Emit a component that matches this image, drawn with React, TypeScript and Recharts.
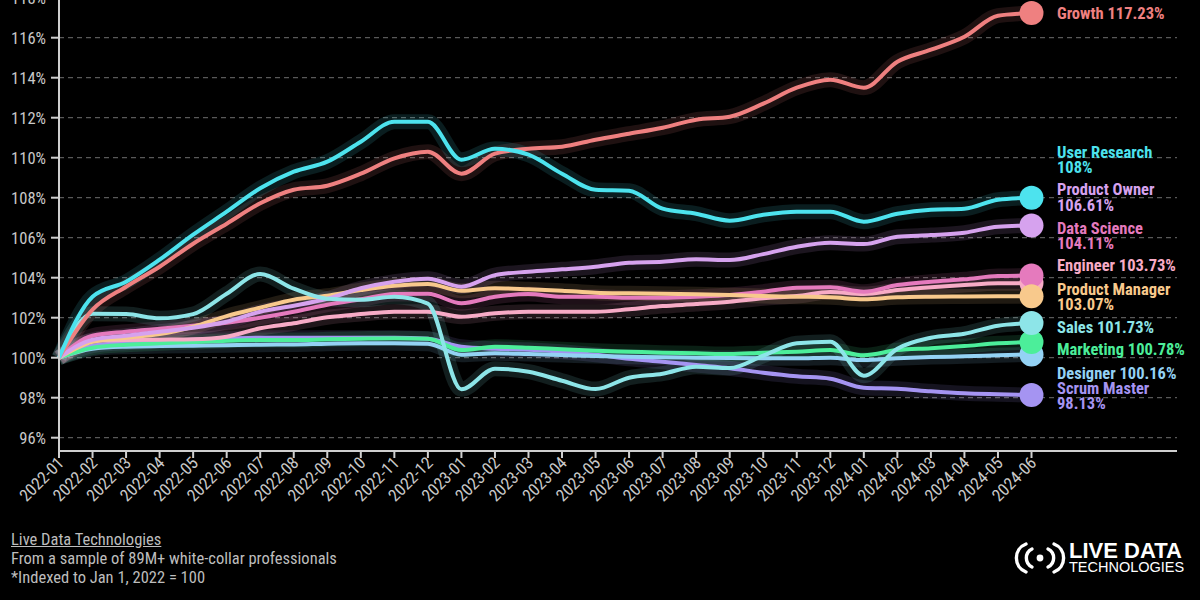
import { LineChart, Line, XAxis, YAxis, CartesianGrid } from "recharts";

const months = [
  "2022-01", "2022-02", "2022-03", "2022-04", "2022-05", "2022-06", "2022-07", "2022-08", "2022-09", "2022-10",
  "2022-11", "2022-12", "2023-01", "2023-02", "2023-03", "2023-04", "2023-05", "2023-06", "2023-07", "2023-08",
  "2023-09", "2023-10", "2023-11", "2023-12", "2024-01", "2024-02", "2024-03", "2024-04", "2024-05", "2024-06",
];

const growth = [100, 102.4, 103.55, 104.55, 105.7, 106.7, 107.72, 108.4, 108.6, 109.2, 109.97, 110.3, 109.2, 110.2, 110.45, 110.55, 110.9, 111.2, 111.5, 111.9, 112.05, 112.7, 113.5, 113.9, 113.5, 114.8, 115.4, 116.05, 117.1, 117.23];
const userResearch = [100, 103.05, 103.8, 104.9, 106.15, 107.3, 108.47, 109.3, 109.8, 110.8, 111.8, 111.8, 109.9, 110.45, 110.15, 109.2, 108.4, 108.35, 107.45, 107.2, 106.85, 107.15, 107.3, 107.3, 106.8, 107.2, 107.4, 107.45, 107.9, 108];
const productOwner = [100, 100.9, 101.1, 101.3, 101.5, 101.8, 102.3, 102.6, 102.95, 103.47, 103.8, 103.95, 103.55, 104.13, 104.3, 104.42, 104.55, 104.75, 104.8, 104.92, 104.88, 105.18, 105.55, 105.75, 105.68, 106.05, 106.13, 106.25, 106.55, 106.61];
const dataScience = [100, 101.1, 101.3, 101.45, 101.6, 101.75, 102.0, 102.3, 102.65, 102.92, 103.18, 103.2, 102.72, 103.05, 103.18, 103.05, 103.05, 103.0, 103.0, 103.05, 103.13, 103.3, 103.5, 103.52, 103.3, 103.63, 103.8, 103.92, 104.08, 104.11];
const engineer = [100, 100.85, 100.88, 100.9, 100.92, 101.05, 101.47, 101.72, 102.02, 102.18, 102.3, 102.3, 102.05, 102.22, 102.3, 102.3, 102.3, 102.42, 102.58, 102.68, 102.8, 102.97, 103.08, 103.28, 103.18, 103.38, 103.52, 103.63, 103.72, 103.73];
const productManager = [100, 100.8, 101.0, 101.18, 101.55, 102.08, 102.5, 102.9, 103.1, 103.38, 103.6, 103.68, 103.35, 103.47, 103.42, 103.35, 103.25, 103.22, 103.2, 103.17, 103.13, 103.08, 103.05, 103.02, 102.92, 103.02, 103.05, 103.06, 103.07, 103.07];
const sales = [100, 102.2, 102.18, 101.97, 102.18, 103.2, 104.18, 103.45, 102.95, 102.9, 103.05, 102.7, 98.42, 99.45, 99.3, 98.85, 98.43, 99.0, 99.2, 99.55, 99.48, 100.1, 100.72, 100.8, 99.1, 100.45, 101.0, 101.2, 101.6, 101.73];
const marketing = [100, 100.5, 100.65, 100.72, 100.78, 100.85, 100.88, 100.88, 100.92, 100.95, 100.97, 100.95, 100.38, 100.55, 100.5, 100.42, 100.35, 100.3, 100.25, 100.22, 100.18, 100.25, 100.3, 100.38, 100.12, 100.38, 100.47, 100.58, 100.72, 100.78];
const designer = [100, 100.45, 100.55, 100.58, 100.6, 100.62, 100.65, 100.66, 100.7, 100.72, 100.72, 100.7, 100.15, 100.22, 100.18, 100.13, 100.08, 100.05, 100.02, 100.0, 99.98, 99.97, 99.97, 100.0, 99.88, 99.97, 100.03, 100.07, 100.12, 100.16];
const scrumMaster = [100, 100.6, 100.75, 100.82, 100.9, 100.95, 101.0, 101.0, 101.0, 101.0, 101.0, 100.95, 100.55, 100.45, 100.4, 100.3, 100.15, 99.95, 99.8, 99.63, 99.47, 99.25, 99.07, 98.95, 98.5, 98.45, 98.32, 98.22, 98.17, 98.13];

const yTicks = [96, 98, 100, 102, 104, 106, 108, 110, 112, 114, 116, 118];

const footerLines = ["Live Data Technologies", "From a sample of 89M+ white-collar professionals", "*Indexed to Jan 1, 2022 = 100"];

const FONT = "'Roboto Condensed', 'Liberation Sans Narrow', 'DejaVu Sans Condensed', Roboto, sans-serif";

// drawing order: first = bottom
const series = [
  { key: "scrumMaster", name: "Scrum Master", values: scrumMaster, color: "#a594f2", twoLine: true, labelDy: 0 },
  { key: "designer", name: "Designer", values: designer, color: "#94d2f4", twoLine: false, labelDy: 18 },
  { key: "marketing", name: "Marketing", values: marketing, color: "#4cee9a", twoLine: false, labelDy: 7 },
  { key: "engineer", name: "Engineer", values: engineer, color: "#f7abc6", twoLine: false, labelDy: -18 },
  { key: "dataScience", name: "Data Science", values: dataScience, color: "#e57abd", twoLine: true, labelDy: -40 },
  { key: "productManager", name: "Product Manager", values: productManager, color: "#f8c98c", twoLine: true, labelDy: 0 },
  { key: "productOwner", name: "Product Owner", values: productOwner, color: "#d6a2ee", twoLine: true, labelDy: -28.5 },
  { key: "sales", name: "Sales", values: sales, color: "#8de5e8", twoLine: false, labelDy: 3.5 },
  { key: "growth", name: "Growth", values: growth, color: "#ef8080", twoLine: false, labelDy: 0 },
  { key: "userResearch", name: "User Research", values: userResearch, color: "#4de3ee", twoLine: true, labelDy: -38.5 },
];

const rows = months.map((m, i) => {
  const row: Record<string, string | number> = { month: m };
  series.forEach((s) => (row[s.key] = s.values[i]));
  return row;
});

const last = months.length - 1;

function MonthTick({ x, y, payload }: any) {
  return (
    <g transform={`translate(${x + 6},${y + 4}) rotate(-45)`}>
      <text textAnchor="end" fill="#c9c9c9" fontSize={17} fontFamily={FONT}>
        {payload.value}
      </text>
    </g>
  );
}

function endDot(s: (typeof series)[number]) {
  return (props: any) => {
    const { cx, cy, index } = props;
    if (index !== last) return <g key={`${s.key}-${index}`} />;
    const v = `${s.values[last]}%`;
    const c = cy + s.labelDy;
    const tx = cx + 25.5;
    return (
      <g key={`${s.key}-end`}>
        <circle cx={cx} cy={cy} r={12} fill={s.color} />
        <text fill={s.color} fontSize={16.5} fontWeight={700} fontFamily={FONT} dominantBaseline="central">
          {s.twoLine ? (
            <>
              <tspan x={tx} y={c - 7.6}>{s.name}</tspan>
              <tspan x={tx} y={c + 7.6}>{v}</tspan>
            </>
          ) : (
            <tspan x={tx} y={c}>{`${s.name} ${v}`}</tspan>
          )}
        </text>
      </g>
    );
  };
}

function Logo() {
  return (
    <svg width={185} height={42} style={{ position: "absolute", left: 1012, top: 537 }}>
      <g fill="none" stroke="#fff" strokeWidth={3.4} strokeLinecap="round">
        <path d="M 14 7 A 15 15 0 0 0 14 35" />
        <path d="M 20 12 A 10 10 0 0 0 20 30" />
        <path d="M 36 12 A 10 10 0 0 1 36 30" />
        <path d="M 42 7 A 15 15 0 0 1 42 35" />
      </g>
      <circle cx={28} cy={21} r={3.4} fill="#fff" />
      <text x={57} y={21} fill="#fff" fontSize={22} fontWeight={700} fontFamily="'Liberation Sans', Arial, sans-serif">
        LIVE DATA
      </text>
      <text x={57} y={35} fill="#fff" fontSize={14.5} fontFamily="'Liberation Sans', Arial, sans-serif">
        TECHNOLOGIES
      </text>
    </svg>
  );
}

export default function App() {
  return (
    <div style={{ position: "fixed", left: 0, top: 0, width: 1200, height: 600, background: "#000", overflow: "hidden", fontFamily: FONT }}>
      <div style={{ position: "absolute", left: 0, top: -40 }}>
        <LineChart width={1200} height={580} data={rows} margin={{ top: 17.7, right: 23, bottom: 9, left: 0 }}>
          <CartesianGrid vertical={false} stroke="#6e6e6e" strokeDasharray="5 4" />
          <XAxis
            dataKey="month"
            interval={0}
            padding={{ left: 0, right: 145.5 }}
            stroke="#cfcfcf"
            strokeWidth={2}
            tickSize={7}
            tick={<MonthTick />}
            height={80}
          />
          <YAxis
            type="number"
            domain={[95.335, 119]}
            ticks={yTicks}
            tickFormatter={(v: number) => `${v}%`}
            width={59}
            stroke="#cfcfcf"
            strokeWidth={2}
            tickSize={8}
            tickMargin={5}
            tick={{ fill: "#c9c9c9", fontSize: 16.5, fontFamily: FONT }}
          />
          {series.map((s) => (
            <Line
              key={`${s.key}-halo`}
              type="monotone"
              dataKey={s.key}
              stroke={s.color}
              strokeOpacity={0.13}
              strokeWidth={15}
              dot={false}
              activeDot={false}
              isAnimationActive={false}
            />
          ))}
          {series.map((s) => (
            <Line
              key={s.key}
              type="monotone"
              dataKey={s.key}
              stroke={s.color}
              strokeWidth={4}
              dot={endDot(s)}
              activeDot={false}
              isAnimationActive={false}
            />
          ))}
        </LineChart>
      </div>
      <div style={{ position: "absolute", left: 11, top: 530, color: "#bdbdbd", fontSize: 16.5, lineHeight: "19px" }}>
        <div style={{ textDecoration: "underline" }}>{footerLines[0]}</div>
        <div>{footerLines[1]}</div>
        <div>{footerLines[2]}</div>
      </div>
      <Logo />
    </div>
  );
}
